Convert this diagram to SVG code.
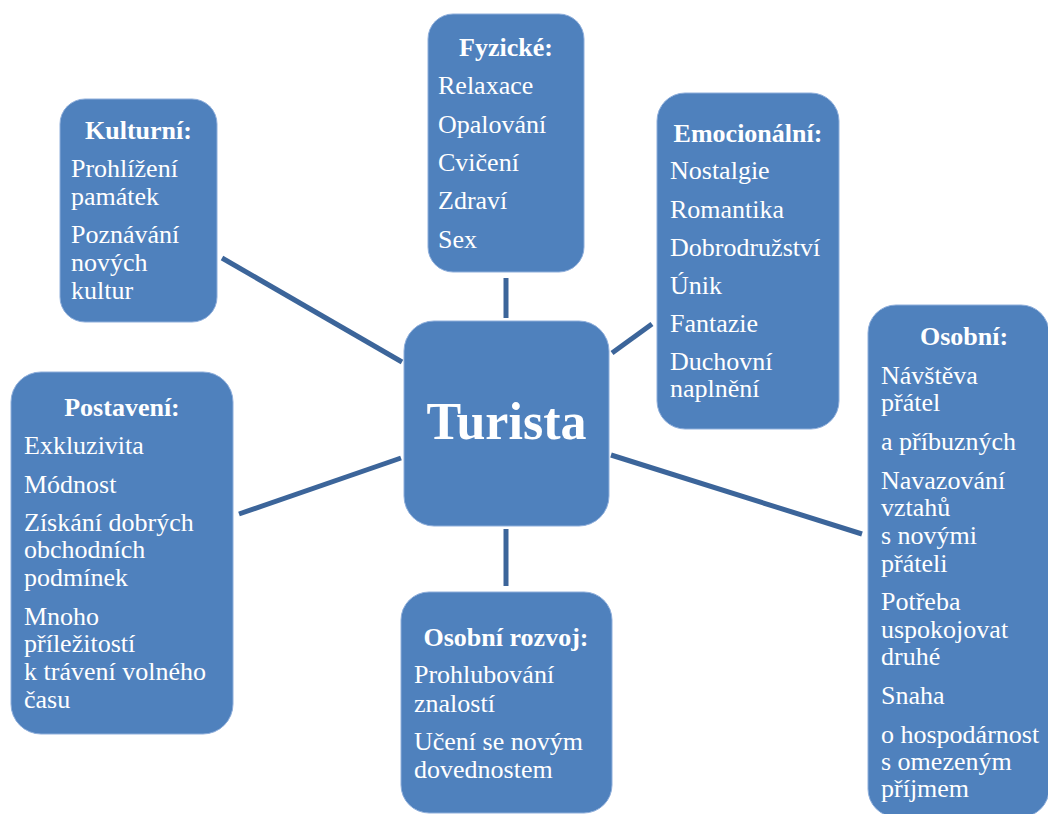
<svg xmlns="http://www.w3.org/2000/svg" width="1048" height="814" viewBox="0 0 1048 814">
<style>
.box{fill:#4f81bd;stroke:#8eaedb;stroke-width:1}
.t{font-family:"Liberation Serif","Times New Roman",serif;font-size:26px;fill:#ffffff}
.h{font-weight:bold;text-anchor:middle}
.big{font-family:"Liberation Serif","Times New Roman",serif;font-size:52px;font-weight:bold;fill:#ffffff;text-anchor:middle}
.c{stroke:#3c659a;stroke-width:5;fill:none}
</style>
<rect width="1048" height="814" fill="#ffffff"/>
<g id="connectors">
<line class="c" x1="222" y1="258" x2="402" y2="362"/>
<line class="c" x1="506" y1="278" x2="506" y2="318"/>
<line class="c" x1="652" y1="324" x2="612" y2="353"/>
<line class="c" x1="239" y1="514" x2="401" y2="458"/>
<line class="c" x1="506" y1="529" x2="506" y2="586"/>
<line class="c" x1="611" y1="455" x2="862" y2="534"/>
</g>
<g id="turista">
<rect class="box" x="404" y="321" width="205" height="205" rx="30"/>
<text class="big" x="506.5" y="439">Turista</text>
</g>
<g id="kulturni">
<rect class="box" x="60" y="99" width="157" height="223" rx="25"/>
<text class="t h" x="138.5" y="139">Kulturní:</text>
<text class="t" x="71" y="177">Prohlížení</text>
<text class="t" x="71" y="205">památek</text>
<text class="t" x="71" y="243">Poznávání</text>
<text class="t" x="71" y="271">nových</text>
<text class="t" x="71" y="299">kultur</text>
</g>
<g id="fyzicke">
<rect class="box" x="428" y="14" width="156" height="258" rx="25"/>
<text class="t h" x="506" y="56">Fyzické:</text>
<text class="t" x="438" y="94">Relaxace</text>
<text class="t" x="438" y="133">Opalování</text>
<text class="t" x="438" y="171">Cvičení</text>
<text class="t" x="438" y="209">Zdraví</text>
<text class="t" x="438" y="248">Sex</text>
</g>
<g id="emocionalni">
<rect class="box" x="657" y="93" width="182" height="336" rx="28"/>
<text class="t h" x="748" y="142">Emocionální:</text>
<text class="t" x="670" y="179">Nostalgie</text>
<text class="t" x="670" y="218">Romantika</text>
<text class="t" x="670" y="256">Dobrodružství</text>
<text class="t" x="670" y="294">Únik</text>
<text class="t" x="670" y="332">Fantazie</text>
<text class="t" x="670" y="370">Duchovní</text>
<text class="t" x="670" y="397">naplnění</text>
</g>
<g id="postaveni">
<rect class="box" x="11" y="372" width="222" height="362" rx="30"/>
<text class="t h" x="122" y="416">Postavení:</text>
<text class="t" x="24" y="454">Exkluzivita</text>
<text class="t" x="24" y="493">Módnost</text>
<text class="t" x="24" y="531">Získání dobrých</text>
<text class="t" x="24" y="558">obchodních</text>
<text class="t" x="24" y="586">podmínek</text>
<text class="t" x="24" y="625">Mnoho</text>
<text class="t" x="24" y="652">příležitostí</text>
<text class="t" x="24" y="680">k trávení volného</text>
<text class="t" x="24" y="708">času</text>
</g>
<g id="osobni-rozvoj">
<rect class="box" x="401" y="592" width="211" height="221" rx="28"/>
<text class="t h" x="506" y="646">Osobní rozvoj:</text>
<text class="t" x="414" y="683">Prohlubování</text>
<text class="t" x="414" y="712">znalostí</text>
<text class="t" x="414" y="750">Učení se novým</text>
<text class="t" x="414" y="778">dovednostem</text>
</g>
<g id="osobni">
<rect class="box" x="868" y="305" width="181" height="512" rx="28"/>
<text class="t h" x="964" y="345">Osobní:</text>
<text class="t" x="881" y="384">Návštěva</text>
<text class="t" x="881" y="411">přátel</text>
<text class="t" x="881" y="450">a příbuzných</text>
<text class="t" x="881" y="489">Navazování</text>
<text class="t" x="881" y="516">vztahů</text>
<text class="t" x="881" y="544">s novými</text>
<text class="t" x="881" y="572">přáteli</text>
<text class="t" x="881" y="610">Potřeba</text>
<text class="t" x="881" y="638">uspokojovat</text>
<text class="t" x="881" y="665">druhé</text>
<text class="t" x="881" y="704">Snaha</text>
<text class="t" x="881" y="743">o hospodárnost</text>
<text class="t" x="881" y="770">s omezeným</text>
<text class="t" x="881" y="797">příjmem</text>
</g>
</svg>
